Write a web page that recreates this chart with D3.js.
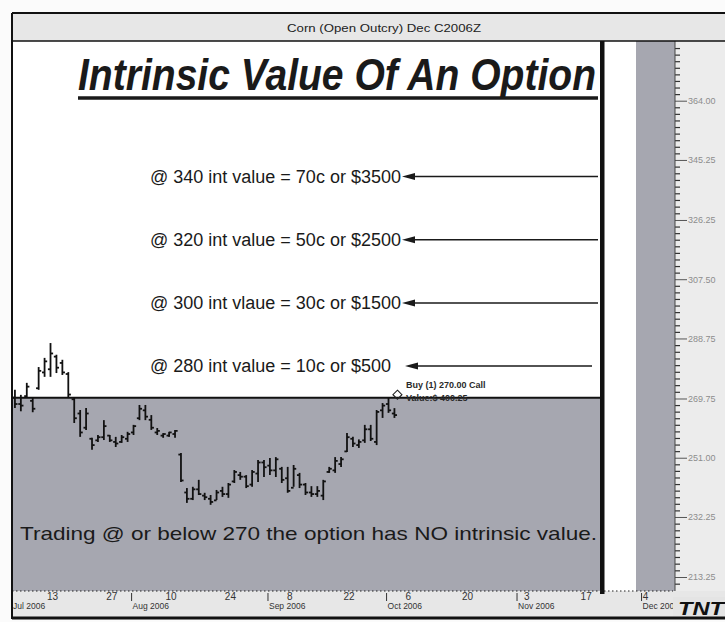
<!DOCTYPE html>
<html><head><meta charset="utf-8">
<script src="https://cdn.jsdelivr.net/npm/d3@7"></script>
<style>
html,body{margin:0;padding:0;background:#fff;}
svg{display:block;font-family:"Liberation Sans",Arial,sans-serif;}
</style></head>
<body>
<svg id="c" width="725" height="622"></svg>
<script>
// ---------------- data ----------------
const barDates = [
 "2006-07-05","2006-07-06","2006-07-07","2006-07-10","2006-07-11","2006-07-12","2006-07-13","2006-07-14",
 "2006-07-17","2006-07-18","2006-07-19","2006-07-20","2006-07-21","2006-07-24","2006-07-25","2006-07-26",
 "2006-07-27","2006-07-28","2006-07-31",
 "2006-08-01","2006-08-02","2006-08-03","2006-08-04","2006-08-07","2006-08-08","2006-08-09","2006-08-10",
 "2006-08-11","2006-08-14","2006-08-15","2006-08-16","2006-08-17","2006-08-18","2006-08-21","2006-08-22",
 "2006-08-23","2006-08-24","2006-08-25","2006-08-28","2006-08-29","2006-08-30","2006-08-31",
 "2006-09-01","2006-09-05","2006-09-06","2006-09-07","2006-09-08","2006-09-11","2006-09-12","2006-09-13",
 "2006-09-14","2006-09-15","2006-09-18","2006-09-19","2006-09-20","2006-09-21","2006-09-22","2006-09-25",
 "2006-09-26","2006-09-27","2006-09-28","2006-09-29",
 "2006-10-02","2006-10-03","2006-10-04"];
const opens  = [270,268,270.5,269,273,278,279,283, 281,277.5,269.5,265,260.5,257,256.5,257.5, 258,256,256,
 257,259,263.5,266,263,259,258,258, 258.5,252,240,238,241,239,238,237.5, 240.5,239.5,243.5,245.5,245,242.5,246,
 249.5,248.5,247,247.5,244.5,241.5,245.5,242.5, 240,239.5,239,246.5,247,249,253,257, 255,256.5,260,256,
 266,268,265];
const highs  = [272.5,270.9,274.7,269.9,279.7,282.6,287.3,283.6, 282.0,278.1,270.2,266.1,266.7,257.3,258.2,262.9, 258.2,257.6,258.2,
 259.2,261.4,267.7,267.7,264.5,260.4,258.8,259.2, 259.8,252.5,241.4,241.8,244.0,239.9,239.2,240.8, 241.8,243.0,247.1,246.5,245.5,247.1,250.3,
 250.3,250.9,251.2,248.1,248.1,248.7,246.2,243.0, 242.0,242.0,244.0,248.1,251.2,251.2,258.8,257.6, 256.8,261.4,261.4,266.1,
 268.3,269.9,266.7];
const lows   = [266.7,265.7,269.9,265.4,272.5,276.6,276.6,277.8, 277.2,269.9,262.0,257.6,259.8,253.5,256.0,256.6, 256.0,254.4,255.7,
 256.0,258.2,262.9,262.9,259.8,258.2,257.3,257.6, 257.3,243.3,236.7,237.6,239.2,237.6,236.1,237.6, 238.6,238.3,243.0,244.0,241.4,241.8,243.3,
 244.9,245.5,244.9,243.0,239.9,241.8,241.4,239.2, 238.6,238.6,237.6,246.2,246.2,248.1,252.8,254.4, 254.1,255.7,256.3,255.0,
 263.6,265.2,263.6];
const closes = [268,267.5,273.5,266.5,278.5,281.5,284,279.5, 278,271,263.5,259,265,255,257.5,261, 256.5,255.5,257.5,
 258.5,261,266.5,264,260.5,259.5,258.5,259, 259.5,243.8,238,241,239.5,238.5,237,240, 239.5,242.5,246.5,245,242,246.5,249.5,
 248,247,250.5,244,240.5,247.5,242.5,240, 239.5,240.5,243.5,247.5,250,250.5,257.5,255.5, 256,260,257,265.5,
 267.5,266,264.5];

const priceTicks = [213.25, 232.25, 251.00, 269.75, 288.75, 307.50, 326.25, 345.25, 364.00];
const dayTickDates = ["2006-07-13","2006-07-27","2006-08-10","2006-08-24","2006-09-08","2006-09-22",
                      "2006-10-06","2006-10-20","2006-11-03","2006-11-17","2006-12-04"];
const monthTickDates = ["2006-07-03","2006-08-01","2006-09-01","2006-10-02","2006-11-01","2006-12-01"];
const monthLabels = ["Jul 2006","Aug 2006","Sep 2006","Oct 2006","Nov 2006","Dec 2006"];
const holidays = ["2006-07-04","2006-09-04","2006-11-23"];

const levelPrices = [340, 320, 300, 280];
const levelTexts = ["@ 340 int value = 70c or $3500",
                    "@ 320 int value = 50c or $2500",
                    "@ 300 int vlaue = 30c or $1500",
                    "@ 280 int value = 10c or $500"];
const strikePrice = 270;
const chartTitle = "Corn (Open Outcry) Dec C2006Z";
const headline = "Intrinsic Value Of An Option";
const footnote = "Trading @ or below 270 the option has NO intrinsic value.";
const orderLines = ["Buy (1) 270.00 Call", "Value:$ 400.25"];
const orderDate = "2006-10-04";

// ---------------- layout ----------------
const svg = d3.select("#c");
const L = 12, R = 675, T = 41, B = 591, panelR = 604, gapR = 636;
const GRAY = "#a6a7b0", LIGHT = "#e7e7e7";

const parse = d3.utcParse("%Y-%m-%d"), fmt = d3.utcFormat("%Y-%m-%d");
const hol = new Set(holidays);
const tradingDays = d3.utcDay.range(parse("2006-07-03"), parse("2006-12-09"))
  .filter(d => d.getUTCDay() % 6 !== 0 && !hol.has(fmt(d))).map(fmt);

const x = d3.scalePoint().domain(tradingDays).range([9, 667.2]);
const y = d3.scaleLinear().domain([213.25, 364]).range([577, 100.7]);

// backgrounds
svg.append("rect").attr("x",0).attr("y",0).attr("width",725).attr("height",622).attr("fill","#fbfbfb");
svg.append("rect").attr("x",L).attr("y",13).attr("width",725-L).attr("height",T-13).attr("fill",LIGHT);
svg.append("rect").attr("x",L).attr("y",B).attr("width",725-L).attr("height",618-B).attr("fill",LIGHT);
svg.append("rect").attr("x",R).attr("y",T).attr("width",725-R).attr("height",B-T).attr("fill","#ececec");
svg.append("rect").attr("x",L).attr("y",T).attr("width",R-L).attr("height",B-T).attr("fill",GRAY);
// white overlay panel above strike
svg.append("rect").attr("x",L).attr("y",T).attr("width",panelR-L).attr("height",y(strikePrice)-T).attr("fill","#fff");
// white gap column
svg.append("rect").attr("x",panelR).attr("y",T).attr("width",gapR-panelR).attr("height",B-T).attr("fill","#fff");

// title bar text
svg.append("text").attr("x",384).attr("y",32).attr("text-anchor","middle")
  .attr("font-size",11.5).attr("fill","#222").attr("textLength",194).attr("lengthAdjust","spacingAndGlyphs")
  .text(chartTitle);

// headline
svg.append("text").attr("x",78).attr("y",90).attr("font-size",44).attr("font-weight","bold")
  .attr("font-style","italic").attr("fill","#1a1a1a").attr("textLength",518).attr("lengthAdjust","spacingAndGlyphs")
  .text(headline);
svg.append("line").attr("x1",78).attr("x2",598).attr("y1",98).attr("y2",98)
  .attr("stroke","#1a1a1a").attr("stroke-width",3.5);

// level annotations with arrows
const lv = svg.append("g");
levelPrices.forEach((p,i) => {
  const yy = y(p);
  lv.append("text").attr("x",150).attr("y",yy+6).attr("font-size",18).attr("fill","#1a1a1a").text(levelTexts[i]);
  const tip = i === 3 ? 405 : 402, end = i === 3 ? 592 : 598;
  lv.append("line").attr("x1",tip+8).attr("x2",end).attr("y1",yy).attr("y2",yy)
    .attr("stroke","#1a1a1a").attr("stroke-width",1.5);
  lv.append("path").attr("d",`M${tip},${yy} L${tip+13},${yy-3.5} L${tip+13},${yy+3.5} Z`).attr("fill","#1a1a1a");
});

// strike line
svg.append("line").attr("x1",L).attr("x2",panelR).attr("y1",y(strikePrice)).attr("y2",y(strikePrice))
  .attr("stroke","#111").attr("stroke-width",2);

// OHLC bars
svg.append("clipPath").attr("id","pc").append("rect").attr("x",L+1).attr("y",T).attr("width",panelR-L-1).attr("height",B-T);
const bars = svg.append("g").attr("clip-path","url(#pc)").attr("stroke","#111").attr("stroke-width",1.8);
barDates.forEach((d,i) => {
  const cx = x(d);
  bars.append("line").attr("x1",cx).attr("x2",cx).attr("y1",y(highs[i])).attr("y2",y(lows[i]));
  bars.append("line").attr("x1",cx-2.6).attr("x2",cx).attr("y1",y(opens[i])).attr("y2",y(opens[i]));
  bars.append("line").attr("x1",cx).attr("x2",cx+2.6).attr("y1",y(closes[i])).attr("y2",y(closes[i]));
});

// order marker
const ox = x(orderDate) + 3, oy = y(strikePrice) - 3;
svg.append("path").attr("d",`M${ox},${oy-4.5} L${ox+4.5},${oy} L${ox},${oy+4.5} L${ox-4.5},${oy} Z`)
  .attr("fill","none").attr("stroke","#222").attr("stroke-width",1.1);
orderLines.forEach((t,i) => {
  svg.append("text").attr("x",406).attr("y",388 + i*12.5).attr("font-size",9).attr("font-weight","bold")
    .attr("fill","#2a2a2a").text(t);
});

// footnote
svg.append("text").attr("x",20).attr("y",540).attr("font-size",19).attr("fill","#1a1a1a")
  .attr("textLength",577).attr("lengthAdjust","spacingAndGlyphs").text(footnote);

// thick panel separator
svg.append("rect").attr("x",600).attr("y",T).attr("width",4.5).attr("height",B-T+3).attr("fill","#111");

// y axis (right)
const minor = [];
const fullTicks = priceTicks.concat([364 + 18.75, 364 + 37.5]);
for (let k = 0; k < fullTicks.length - 1; k++) {
  const a = fullTicks[k], b = fullTicks[k+1];
  for (let j = 1; j < 9; j++) minor.push(a + (b - a) * j / 9);
}
const below = priceTicks[0] - (priceTicks[1]-priceTicks[0]) / 9;
minor.push(below, below - (priceTicks[1]-priceTicks[0]) / 9);
const minorIn = minor.filter(v => y(v) > T + 2 && y(v) < B - 1);

const yMinor = svg.append("g").attr("transform",`translate(${R},0)`)
  .call(d3.axisRight(y).tickValues(minorIn).tickSize(5).tickFormat(""));
yMinor.select(".domain").remove();
yMinor.selectAll("line").attr("stroke","#333").attr("stroke-width",1.2);

const yAx = svg.append("g").attr("transform",`translate(${R},0)`)
  .call(d3.axisRight(y).tickValues(priceTicks).tickSize(12).tickPadding(1).tickFormat(d3.format(".2f")));
yAx.select(".domain").remove();
yAx.selectAll("line").attr("stroke","#555").attr("stroke-width",1);
yAx.selectAll("text").attr("font-size",9).attr("fill","#8c8c8c").attr("font-family","Liberation Sans, Arial, sans-serif");
svg.append("line").attr("x1",R).attr("x2",R).attr("y1",T).attr("y2",B).attr("stroke","#444").attr("stroke-width",1);

// x axis: dotted top line, day labels, month ticks/labels
svg.append("line").attr("x1",L).attr("x2",R-2).attr("y1",B).attr("y2",B)
  .attr("stroke","#222").attr("stroke-width",1.2).attr("stroke-dasharray","1.5,2.5");

const xAx = svg.append("g").attr("transform",`translate(1.5,${B})`)
  .call(d3.axisBottom(x).tickValues(dayTickDates).tickSize(0).tickPadding(2).tickFormat(d => +d.slice(8)));
xAx.select(".domain").remove();
xAx.selectAll("text").attr("font-size",10).attr("fill","#333").attr("font-family","Liberation Sans, Arial, sans-serif");

monthTickDates.forEach((d,i) => {
  const mx = Math.max(x(d) + 4, 10);
  if (i > 0) svg.append("line").attr("x1",mx).attr("x2",mx).attr("y1",B+2).attr("y2",B+10)
      .attr("stroke","#333").attr("stroke-width",1);
  svg.append("text").attr("x",mx + (i>0?1:0)).attr("y",B+18).attr("font-size",8.5).attr("fill","#333").text(monthLabels[i]);
});

// TNT logo
svg.append("rect").attr("x",673).attr("y",597).attr("width",52).attr("height",21).attr("fill","#e4e4e4");
svg.append("text").attr("x",678).attr("y",615).attr("font-size",18).attr("font-weight","900").attr("font-style","italic")
  .attr("fill","#111").attr("textLength",46).attr("lengthAdjust","spacingAndGlyphs").text("TNT");

// frame
svg.append("line").attr("x1",L).attr("x2",725).attr("y1",13).attr("y2",13).attr("stroke","#111").attr("stroke-width",2);
svg.append("line").attr("x1",L).attr("x2",725).attr("y1",T).attr("y2",T).attr("stroke","#111").attr("stroke-width",1.5);
svg.append("line").attr("x1",L).attr("x2",L).attr("y1",13).attr("y2",619).attr("stroke","#111").attr("stroke-width",2);
svg.append("line").attr("x1",L).attr("x2",725).attr("y1",618).attr("y2",618).attr("stroke","#111").attr("stroke-width",3);
</script>
</body></html>
